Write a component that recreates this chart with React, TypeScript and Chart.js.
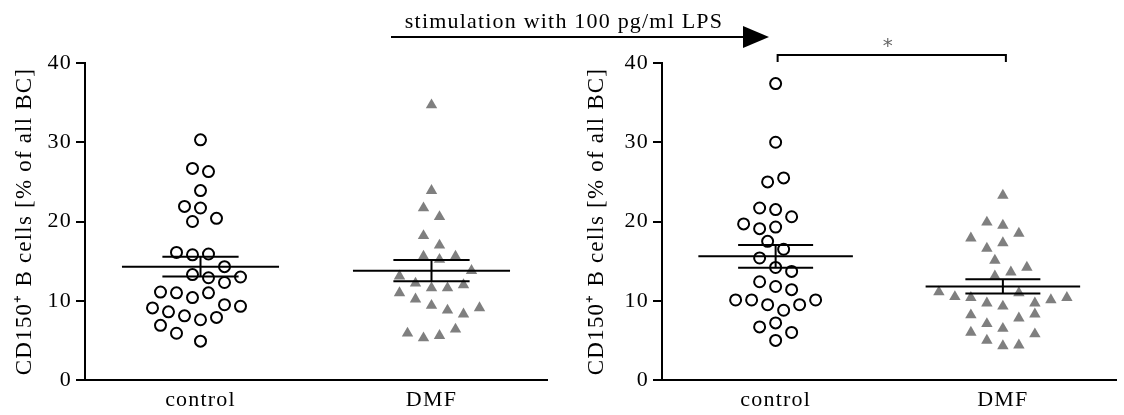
import React, { useEffect, useRef } from "react";
import { Chart, registerables } from "chart.js";

Chart.register(...registerables);

// ---------- data ----------
const categories = ["control", "DMF"];
const yTickValues = [0, 10, 20, 30, 40];
const yTitle = "CD150\u207A B cells [% of all BC]";
const arrowLabel = "stimulation with 100 pg/ml LPS";
const sigLabel = "*";

// unstimulated (left panel)
const unstimControl = [30.3, 26.7, 26.3, 23.9, 21.9, 21.7, 20.4, 20.0, 16.1, 15.8, 15.9, 14.3, 13.3, 12.9, 12.3, 13.0, 11.1, 11.0, 10.4, 11.0, 9.5, 9.1, 9.3, 8.6, 8.1, 7.6, 7.9, 6.9, 5.9, 4.9];
const unstimDMF = [34.7, 23.9, 21.7, 20.6, 18.2, 17.0, 15.6, 15.2, 15.6, 13.8, 13.1, 12.2, 11.6, 11.0, 11.6, 12.0, 10.2, 9.4, 8.8, 8.3, 9.1, 5.9, 5.3, 5.6, 6.4];
const unstimMean = [14.3, 13.8];
const unstimSEM = [1.25, 1.35];

// LPS stimulated (right panel)
const lpsControl = [37.4, 30.0, 25.0, 25.5, 21.7, 21.5, 20.6, 19.7, 19.1, 19.3, 17.5, 16.5, 15.4, 14.2, 13.7, 12.4, 11.8, 11.4, 10.1, 10.1, 9.5, 8.8, 9.5, 10.1, 6.7, 7.2, 6.0, 5.0];
const lpsDMF = [23.3, 19.9, 19.5, 18.5, 17.9, 16.6, 17.3, 15.1, 13.6, 13.1, 14.2, 11.1, 10.5, 10.4, 9.7, 9.3, 11.0, 9.7, 10.1, 10.4, 8.2, 7.1, 6.5, 7.8, 8.3, 6.0, 5.0, 4.3, 4.4, 5.8];
const lpsMean = [15.6, 11.8];
const lpsSEM = [1.45, 0.9];

// ---------- styles ----------
const FONT_FAMILY = "'Liberation Serif', 'Times New Roman', serif";
const FONT_SIZE = 22;
const TITLE_SIZE = 23;
const LETTER_SPACING = "1.2px";
const GREY = "#7f7f7f";

const spacingPlugin = {
  id: "letterSpacing",
  beforeUpdate(chart: any) { chart.ctx.letterSpacing = LETTER_SPACING; },
  beforeLayout(chart: any) { chart.ctx.letterSpacing = LETTER_SPACING; },
  beforeDraw(chart: any) { chart.ctx.letterSpacing = LETTER_SPACING; },
};

function statsPlugin(mean: number[], sem: number[]) {
  return {
    id: "meanSem",
    afterDatasetsDraw(chart: any) {
      const { ctx } = chart;
      const xs = chart.scales.x;
      const ys = chart.scales.y;
      ctx.save();
      ctx.strokeStyle = "#000";
      ctx.lineWidth = 2;
      mean.forEach((m, i) => {
        const cx = xs.getPixelForValue(i);
        const wMean = xs.getPixelForValue(i + 0.34) - cx;
        const wSem = xs.getPixelForValue(i + 0.165) - cx;
        const yM = ys.getPixelForValue(m);
        const yHi = ys.getPixelForValue(m + sem[i]);
        const yLo = ys.getPixelForValue(m - sem[i]);
        ctx.beginPath();
        ctx.moveTo(cx - wMean, yM); ctx.lineTo(cx + wMean, yM);
        ctx.moveTo(cx - wSem, yHi); ctx.lineTo(cx + wSem, yHi);
        ctx.moveTo(cx - wSem, yLo); ctx.lineTo(cx + wSem, yLo);
        ctx.moveTo(cx, yHi); ctx.lineTo(cx, yLo);
        ctx.stroke();
      });
      ctx.restore();
    },
  };
}

const annotationPlugin = {
  id: "annotations",
  afterDraw(chart: any) {
    const { ctx, chartArea } = chart;
    const xs = chart.scales.x;
    ctx.save();
    ctx.letterSpacing = LETTER_SPACING;
    // arrow
    const ay = chartArea.top - 26;
    const x0 = chartArea.left - 271;
    const tip = chartArea.left + 107;
    const headLen = 26;
    ctx.strokeStyle = "#000";
    ctx.fillStyle = "#000";
    ctx.lineWidth = 2;
    ctx.beginPath();
    ctx.moveTo(x0, ay);
    ctx.lineTo(tip - headLen, ay);
    ctx.stroke();
    ctx.beginPath();
    ctx.moveTo(tip, ay);
    ctx.lineTo(tip - headLen, ay - 11);
    ctx.lineTo(tip - headLen, ay + 11);
    ctx.closePath();
    ctx.fill();
    ctx.font = `${FONT_SIZE}px ${FONT_FAMILY}`;
    ctx.textAlign = "center";
    ctx.textBaseline = "alphabetic";
    ctx.fillText(arrowLabel, (x0 + tip - headLen) / 2 - 3, ay - 9);
    // significance bracket
    const bx0 = xs.getPixelForValue(0) + 2;
    const bx1 = xs.getPixelForValue(1) + 3;
    const by = chartArea.top - 8;
    ctx.beginPath();
    ctx.moveTo(bx0, chartArea.top - 1);
    ctx.lineTo(bx0, by);
    ctx.lineTo(bx1, by);
    ctx.lineTo(bx1, chartArea.top - 1);
    ctx.stroke();
    ctx.letterSpacing = "0px";
    ctx.fillStyle = "#666";
    ctx.font = `20px 'DejaVu Sans', sans-serif`;
    ctx.fillText(sigLabel, (bx0 + bx1) / 2 - 4, by - 3);
    ctx.restore();
  },
};

function makeConfig(ctrl: number[], dmf: number[], mean: number[], sem: number[], padLeft: number, padRight: number, titlePad: number, extra: any[]) {
  const font = { family: FONT_FAMILY, size: FONT_SIZE };
  return {
    type: "scatter",
    data: {
      datasets: [
        {
          label: categories[0],
          data: ctrl.map((v) => ({ x: 0, y: v })),
          pointStyle: "circle",
          pointRadius: 5.5,
          pointHoverRadius: 5.5,
          borderWidth: 2,
          borderColor: "#000",
          backgroundColor: "#fff",
        },
        {
          label: categories[1],
          data: dmf.map((v) => ({ x: 1, y: v })),
          pointStyle: "triangle",
          pointRadius: 6.6,
          pointHoverRadius: 6.6,
          borderWidth: 0,
          borderColor: GREY,
          backgroundColor: GREY,
        },
      ],
    },
    options: {
      animation: false,
      responsive: false,
      devicePixelRatio: 1,
      layout: { padding: { left: padLeft, right: padRight, top: 63, bottom: 0 } },
      plugins: { legend: { display: false }, tooltip: { enabled: false } },
      scales: {
        x: {
          type: "linear",
          min: -0.5,
          max: 1.5,
          afterBuildTicks: (s: any) => { s.ticks = categories.map((_, i) => ({ value: i })); },
          afterFit: (s: any) => { s.height = 35; },
          ticks: { font, color: "#000", padding: 7, maxRotation: 0, autoSkip: false, callback: (v: any) => categories[v] },
          grid: { display: false, drawTicks: false },
          border: { display: true, color: "#000", width: 2 },
        },
        y: {
          min: 0,
          max: 40,
          afterBuildTicks: (s: any) => { s.ticks = yTickValues.map((v) => ({ value: v })); },
          afterFit: (s: any) => { s.width = 85; },
          ticks: { font, color: "#000", padding: 4 },
          grid: { display: true, drawOnChartArea: false, drawTicks: true, tickLength: 9, color: "#000", lineWidth: 2 },
          border: { display: true, color: "#000", width: 2 },
          title: { display: true, text: yTitle, font: { family: FONT_FAMILY, size: TITLE_SIZE }, color: "#000", padding: { top: titlePad, bottom: 0 } },
        },
      },
    },
    plugins: [spacingPlugin, statsPlugin(mean, sem), ...extra],
  } as any;
}

// beeswarm layout computed through the chart's own scales
function swarm(chart: any, values: number[], cat: number) {
  const xs = chart.scales.x;
  const ys = chart.scales.y;
  const cx = xs.getPixelForValue(cat);
  const unit = xs.getPixelForValue(cat + 1) - cx;
  const py = values.map((v) => ys.getPixelForValue(v));
  const order = values.map((_, i) => i).sort((a, b) => values[b] - values[a]);
  const D = 14, S = 16, H = 15;
  const placed: { x: number; y: number }[] = [];
  const offs = values.map(() => 0);
  let k = 0;
  while (k < order.length) {
    const row = [order[k]];
    const top = py[order[k]];
    let j = k + 1;
    while (j < order.length && py[order[j]] - top < H) { row.push(order[j]); j++; }
    row.sort((a, b) => a - b);
    const n = row.length;
    const shifts = [0, 8, -8, 16, -16, 24, -24, 32, -32, 40, -40];
    let chosen = 0;
    for (const s of shifts) {
      let ok = true;
      for (let r = 0; r < n && ok; r++) {
        const ox = (r - (n - 1) / 2) * S + s;
        for (const p of placed) {
          if (Math.hypot(p.x - ox, p.y - py[row[r]]) < D) { ok = false; break; }
        }
      }
      if (ok) { chosen = s; break; }
    }
    row.forEach((id, r) => {
      const ox = (r - (n - 1) / 2) * S + chosen;
      offs[id] = ox;
      placed.push({ x: ox, y: py[id] });
    });
    k = j;
  }
  return values.map((v, i) => ({ x: cat + offs[i] / unit, y: v }));
}

export default function App() {
  const leftRef = useRef<HTMLCanvasElement>(null);
  const rightRef = useRef<HTMLCanvasElement>(null);
  useEffect(() => {
    const left = new Chart(leftRef.current as HTMLCanvasElement, makeConfig(unstimControl, unstimDMF, unstimMean, unstimSEM, 0, 577, 11, []));
    const right = new Chart(rightRef.current as HTMLCanvasElement, makeConfig(lpsControl, lpsDMF, lpsMean, lpsSEM, 577, 0, 6, [annotationPlugin]));
    left.data.datasets[0].data = swarm(left, unstimControl, 0) as any;
    left.data.datasets[1].data = swarm(left, unstimDMF, 1) as any;
    left.update();
    right.data.datasets[0].data = swarm(right, lpsControl, 0) as any;
    right.data.datasets[1].data = swarm(right, lpsDMF, 1) as any;
    right.update();
    return () => { left.destroy(); right.destroy(); };
  }, []);
  const cs: React.CSSProperties = { position: "absolute", left: 0, top: 0 };
  return (
    <div style={{ position: "absolute", left: 0, top: 0, width: 1124, height: 415, background: "#fff", overflow: "hidden" }}>
      <canvas ref={leftRef} width={1124} height={415} style={cs} />
      <canvas ref={rightRef} width={1124} height={415} style={cs} />
    </div>
  );
}
